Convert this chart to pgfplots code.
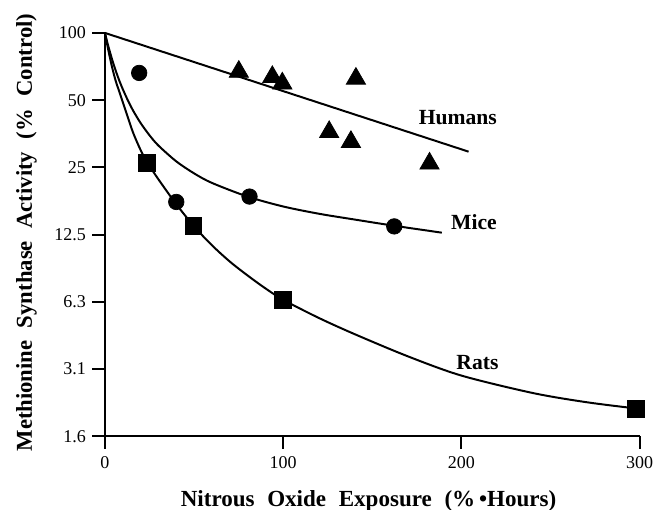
\documentclass[border=0pt]{standalone}
\usepackage{pgfplots}
\pgfplotsset{compat=1.18}
\usepackage{fontspec}
\setmainfont{Liberation Serif}
\begin{document}
\begin{tikzpicture}
\useasboundingbox (-58.3pt,-40.6pt) rectangle (309.4pt,242.3pt);
\begin{axis}[
  at={(0,0)}, anchor=south west,
  scale only axis, width=297pt, height=224pt,
  xmin=0, xmax=300, ymin=1.5625, ymax=100,
  ymode=log, log basis y=2,
  axis lines*=left, axis line style={-, line width=1.1pt},
  tick align=outside, major tick length=7pt,
  every tick/.style={black, line width=1.1pt},
  xtick={0,100,200,300},
  ytick={1.5625,3.125,6.25,12.5,25,50,100},
  yticklabels={1.6,3.1,6.3,12.5,25,50,100},
  minor tick num=0,
  /pgf/number format/assume math mode=true,
  tick label style={font=\fontsize{10}{12}\selectfont},
  xticklabel style={yshift=-1pt},
  every axis y label/.style={at={(axis description cs:-0.147,0.505)}, rotate=90, anchor=center},
  every axis x label/.style={at={(axis description cs:0.493,0)}, yshift=-36pt, anchor=center},
  ylabel={\fontsize{12.6}{14}\selectfont\bfseries Methionine\hspace{0.55em}Synthase\hspace{0.55em}Activity\hspace{0.55em}(\%\hspace{0.55em}Control)},
  xlabel={\fontsize{12.8}{14}\selectfont\bfseries Nitrous\hspace{0.55em}Oxide\hspace{0.55em}Exposure\hspace{0.55em}(\%\,\textbullet Hours)},
  clip=false,
]
% Humans fit line
\addplot[black, line width=1.1pt] coordinates {(0,100) (204,29.4)};
% Mice curve
\addplot[black, line width=1.1pt, smooth] coordinates {
(0,100) (1,92.8) (2,86.5) (4,76.1) (6,67.9) (8,61.3) (10,56.0) (13,49.6) (16,44.6) (20,39.5) (25,34.8) (30,31.3) (40,26.6) (50,23.5) (60,21.3) (80,18.5) (100,16.7) (120,15.5) (140,14.6) (162,13.7) (189,12.75)};
% Rats curve
\addplot[black, line width=1.1pt, smooth] coordinates {
(0,100) (2,82.9) (4,70.2) (6,61.1) (8,54.7) (10,49.0) (13,41.5) (16,35.4) (20,29.9) (24,26.1) (30,22.1) (40,17.1) (50,13.6) (60,11.2) (70,9.47) (80,8.20) (90,7.18) (100,6.38) (120,5.29) (140,4.48) (170,3.56) (200,2.92) (240,2.44) (270,2.22) (298,2.08)};
% Humans points
\addplot[only marks, mark=triangle*, mark size=6.2pt, black] coordinates {
(75.1,67) (93.9,63.5) (99.5,59.4) (140.8,62.4) (125.8,36) (138,32.5) (182.1,26)};
% Mice points
\addplot[only marks, mark=*, mark size=4.3pt, black] coordinates {
(19.2,66.2) (40,17.5) (81.1,18.5) (162.3,13.6)};
% Rats points
\addplot[only marks, mark=square*, mark size=4.7pt, black] coordinates {
(23.7,26.2) (49.6,13.7) (100,6.4) (298,2.08)};
\node[font=\fontsize{12}{14}\selectfont\bfseries] at (axis cs:198,41.7) {Humans};
\node[font=\fontsize{12}{14}\selectfont\bfseries] at (axis cs:207,14.2) {Mice};
\node[font=\fontsize{12}{14}\selectfont\bfseries] at (axis cs:209,3.35) {Rats};
\end{axis}
\end{tikzpicture}
\end{document}
